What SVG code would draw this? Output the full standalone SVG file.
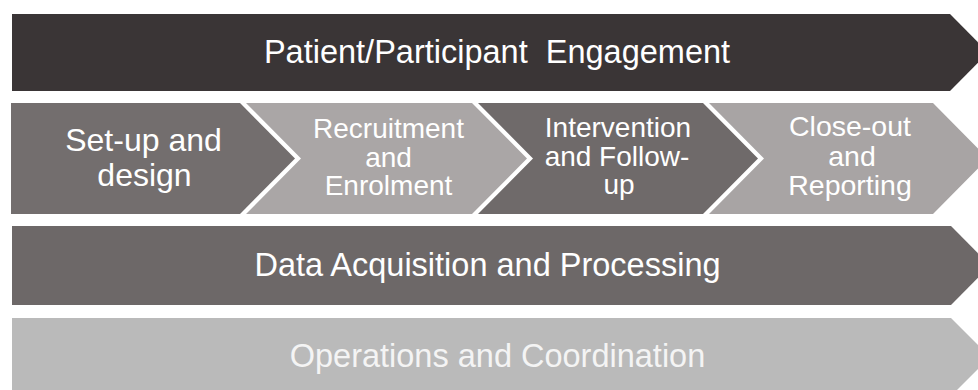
<svg xmlns="http://www.w3.org/2000/svg" width="978" height="390" viewBox="0 0 978 390">
<style>
  .t { font-family: "Liberation Sans", Arial, sans-serif; fill: #ffffff; text-anchor: middle; }
  .big { font-size: 32.5px; }
  .s1 { font-size: 32px; }
  .s2 { font-size: 28px; }
  .s3 { font-size: 28.5px; }
</style>
<rect x="0" y="0" width="978" height="390" fill="#ffffff"/>
<g id="engagement">
  <polygon points="12,14 950,14 988,52.5 950,91 12,91" fill="#3a3536"/>
  <text class="t big" x="497" y="63.3">Patient/Participant&#160; Engagement</text>
</g>
<g id="setup">
  <polygon points="11,103 240,103 295,158.5 240,214 11,214" fill="#736e6e"/>
  <text class="t s1" x="143.5" y="151">Set-up and</text>
  <text class="t s1" x="144.5" y="185.5">design</text>
</g>
<g id="recruitment">
  <polygon points="246,103 472,103 527,158.5 472,214 246,214 301,158.5" fill="#aaa6a6"/>
  <text class="t s2" x="388.5" y="138.3">Recruitment</text>
  <text class="t s2" x="388.5" y="166.7">and</text>
  <text class="t s2" x="388.5" y="195">Enrolment</text>
</g>
<g id="intervention">
  <polygon points="478,103 703,103 758,158.5 703,214 478,214 533,158.5" fill="#6f6a6a"/>
  <text class="t s2" x="618" y="136.7">Intervention</text>
  <text class="t s2" x="617" y="165.5">and Follow-</text>
  <text class="t s2" x="619" y="194">up</text>
</g>
<g id="closeout">
  <polygon points="709,103 933,103 988,158.5 933,214 709,214 764,158.5" fill="#a8a4a4"/>
  <text class="t s3" x="850" y="136.3">Close-out</text>
  <text class="t s3" x="852" y="165.6">and</text>
  <text class="t s3" x="850" y="195">Reporting</text>
</g>
<g id="data">
  <polygon points="12,226 951,226 990,265.5 951,305 12,305" fill="#6d6868"/>
  <text class="t big" x="487.5" y="275.7">Data Acquisition and Processing</text>
</g>
<g id="operations">
  <polygon points="12,318 951,318 990,357 951,396 12,396" fill="#bababa"/>
  <text class="t big" x="497.5" y="366.7" style="fill:#f4f4f4">Operations and Coordination</text>
</g>
<g id="connectors"></g>
</svg>
